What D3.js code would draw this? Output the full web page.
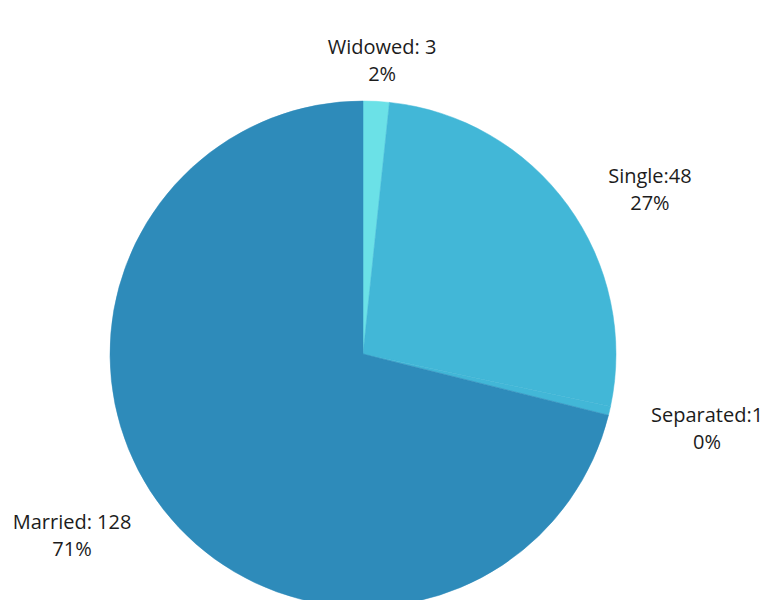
<!DOCTYPE html>
<html>
<head>
<meta charset="utf-8">
<script src="https://cdn.jsdelivr.net/npm/d3@7"></script>
<style>
  html, body { margin: 0; padding: 0; background: #ffffff; }
  svg { display: block; }
</style>
</head>
<body>
<script>
// Marital status breakdown
const categories = ["Widowed", "Single", "Separated", "Married"];
const counts = [3, 48, 1, 128];
const percentLabels = ["2%", "27%", "0%", "71%"];
const countLabels = ["Widowed: 3", "Single:48", "Separated:1", "Married: 128"];
const colors = ["#6be1e7", "#42b7d7", "#42b7d7", "#2e8bba"];

const width = 767, height = 600;
const cx = 363, cy = 354, radius = 253;

// label placement around the pie: angle (deg, clockwise from top) and distance
const labelPlacement = {
  "Widowed":   { angle: 3.7,   dist: 296.6 },
  "Single":    { angle: 59.8,  dist: 332 },
  "Separated": { angle: 101.8, dist: 351.5 },
  "Married":   { angle: 238.4, dist: 341.6 }
};

const svg = d3.select("body").append("svg")
  .attr("width", width)
  .attr("height", height);

const data = categories.map((c, i) => ({ name: c, value: counts[i], i }));

const pie = d3.pie().sort(null).value(d => d.value);
const arc = d3.arc().innerRadius(0).outerRadius(radius);

const color = d3.scaleOrdinal().domain(categories).range(colors);

const g = svg.append("g").attr("transform", `translate(${cx},${cy})`);

g.selectAll("path.slice")
  .data(pie(data))
  .join("path")
  .attr("class", "slice")
  .attr("d", arc)
  .attr("fill", d => color(d.data.name))
  .attr("stroke", d => color(d.data.name))
  .attr("stroke-width", 0.5);

const labels = g.selectAll("text.label")
  .data(pie(data))
  .join("text")
  .attr("class", "label")
  .attr("text-anchor", "middle")
  .attr("font-family", "'Open Sans', 'Noto Sans', sans-serif")
  .attr("font-size", 20)
  .attr("fill", "#1c1c1c")
  .attr("transform", d => {
    const p = labelPlacement[d.data.name];
    const a = p.angle * Math.PI / 180;
    return `translate(${p.dist * Math.sin(a)},${-p.dist * Math.cos(a)})`;
  });

labels.append("tspan")
  .attr("x", 0)
  .attr("y", -4)
  .text(d => countLabels[d.data.i]);

labels.append("tspan")
  .attr("x", 0)
  .attr("y", 23)
  .text(d => percentLabels[d.data.i]);
</script>
</body>
</html>
